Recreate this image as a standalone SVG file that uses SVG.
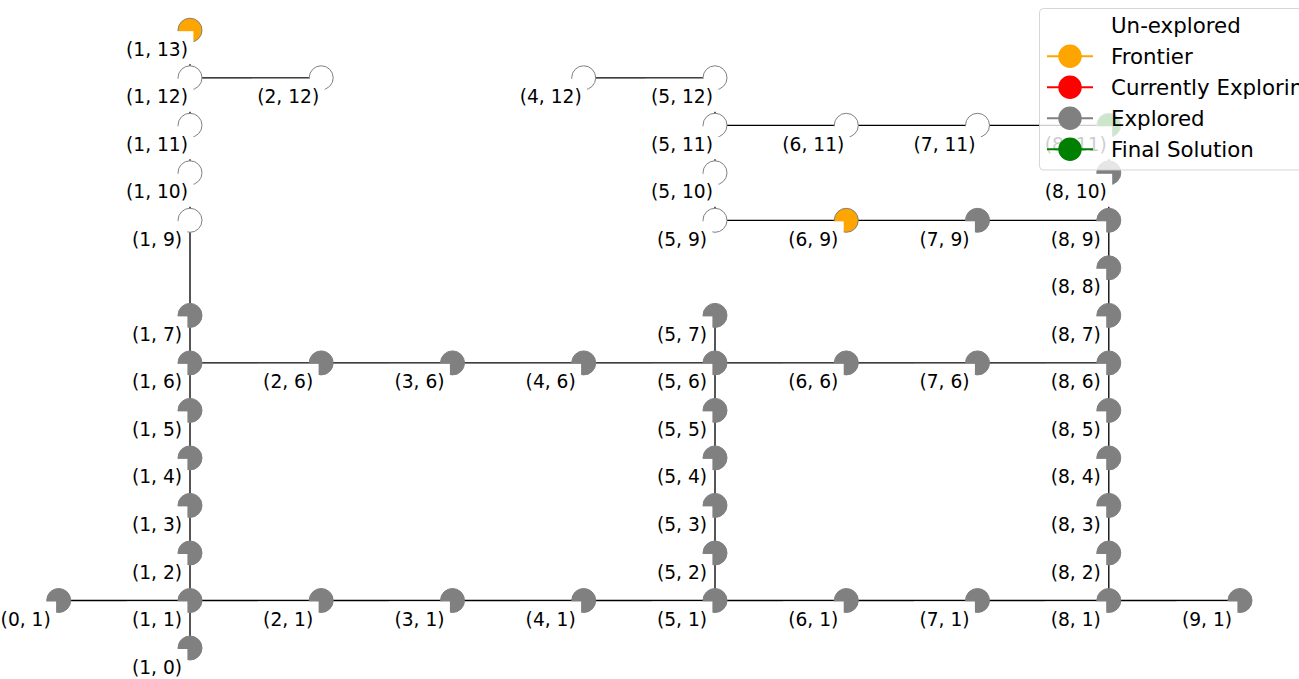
<svg xmlns="http://www.w3.org/2000/svg" width="1299" height="679" viewBox="0 0 1299 679">
<style>
.e line{stroke:#000;stroke-width:1.33}
.n circle{stroke:#808080;stroke-width:1}
.u{fill:#fff}.x{fill:#808080}.f{fill:#ffa500}.g{fill:#008000}
.n rect{fill:#fff}
.n text,.lg text{font-family:"DejaVu Sans","Liberation Sans",sans-serif;fill:#000}
.n text{font-size:18.67px;text-anchor:middle;transform:translate(0px,1.5px)}
.lg text{font-size:21.33px}
.lg line{stroke-width:2}
</style>
<rect width="1299" height="679" fill="#fff"/>
<g id="edges" class="e">
<line x1="58.7" y1="600.5" x2="1240" y2="600.5"/>
<line x1="190" y1="362.9" x2="1108.8" y2="362.9"/>
<line x1="715" y1="220.3" x2="1108.8" y2="220.3"/>
<line x1="715" y1="125.3" x2="1108.8" y2="125.3"/>
<line x1="190" y1="77.8" x2="321.2" y2="77.8"/>
<line x1="583.7" y1="77.8" x2="715" y2="77.8"/>
<line x1="190" y1="648" x2="190" y2="30.2"/>
<line x1="715" y1="600.5" x2="715" y2="315.4"/>
<line x1="715" y1="220.3" x2="715" y2="77.8"/>
<line x1="1108.8" y1="600.5" x2="1108.8" y2="125.3"/>
</g>
<g id="n1_13" class="n"><circle class="f" cx="190" cy="30.2" r="12"/><rect x="120.6" y="31.2" width="72.8" height="33"/><text x="157" y="54.2">(1, 13)</text></g>
<g id="n1_12" class="n"><circle class="u" cx="190" cy="77.8" r="12"/><rect x="120.6" y="78.8" width="72.8" height="33"/><text x="157" y="101.8">(1, 12)</text></g>
<g id="n2_12" class="n"><circle class="u" cx="321.2" cy="77.8" r="12"/><rect x="251.8" y="78.8" width="72.8" height="33"/><text x="288.2" y="101.8">(2, 12)</text></g>
<g id="n4_12" class="n"><circle class="u" cx="583.7" cy="77.8" r="12"/><rect x="514.3" y="78.8" width="72.8" height="33"/><text x="550.7" y="101.8">(4, 12)</text></g>
<g id="n5_12" class="n"><circle class="u" cx="715" cy="77.8" r="12"/><rect x="645.6" y="78.8" width="72.8" height="33"/><text x="682" y="101.8">(5, 12)</text></g>
<g id="n1_11" class="n"><circle class="u" cx="190" cy="125.3" r="12"/><rect x="120.6" y="126.3" width="72.8" height="33"/><text x="157" y="149.3">(1, 11)</text></g>
<g id="n5_11" class="n"><circle class="u" cx="715" cy="125.3" r="12"/><rect x="645.6" y="126.3" width="72.8" height="33"/><text x="682" y="149.3">(5, 11)</text></g>
<g id="n6_11" class="n"><circle class="u" cx="846.3" cy="125.3" r="12"/><rect x="776.9" y="126.3" width="72.8" height="33"/><text x="813.3" y="149.3">(6, 11)</text></g>
<g id="n7_11" class="n"><circle class="u" cx="977.5" cy="125.3" r="12"/><rect x="908.1" y="126.3" width="72.8" height="33"/><text x="944.5" y="149.3">(7, 11)</text></g>
<g id="n8_11" class="n"><circle class="g" cx="1108.8" cy="125.3" r="12"/><rect x="1039.4" y="126.3" width="72.8" height="33"/><text x="1075.8" y="149.3">(8, 11)</text></g>
<g id="n1_10" class="n"><circle class="u" cx="190" cy="172.8" r="12"/><rect x="120.6" y="173.8" width="72.8" height="33"/><text x="157" y="196.8">(1, 10)</text></g>
<g id="n5_10" class="n"><circle class="u" cx="715" cy="172.8" r="12"/><rect x="645.6" y="173.8" width="72.8" height="33"/><text x="682" y="196.8">(5, 10)</text></g>
<g id="n8_10" class="n"><circle class="x" cx="1108.8" cy="172.8" r="12"/><rect x="1039.4" y="173.8" width="72.8" height="33"/><text x="1075.8" y="196.8">(8, 10)</text></g>
<g id="n1_9" class="n"><circle class="u" cx="190" cy="220.3" r="12"/><rect x="126.5" y="221.3" width="60.9" height="33"/><text x="157" y="244.3">(1, 9)</text></g>
<g id="n5_9" class="n"><circle class="u" cx="715" cy="220.3" r="12"/><rect x="651.5" y="221.3" width="60.9" height="33"/><text x="682" y="244.3">(5, 9)</text></g>
<g id="n6_9" class="n"><circle class="f" cx="846.3" cy="220.3" r="12"/><rect x="782.8" y="221.3" width="60.9" height="33"/><text x="813.3" y="244.3">(6, 9)</text></g>
<g id="n7_9" class="n"><circle class="x" cx="977.5" cy="220.3" r="12"/><rect x="914" y="221.3" width="60.9" height="33"/><text x="944.5" y="244.3">(7, 9)</text></g>
<g id="n8_9" class="n"><circle class="x" cx="1108.8" cy="220.3" r="12"/><rect x="1045.3" y="221.3" width="60.9" height="33"/><text x="1075.8" y="244.3">(8, 9)</text></g>
<g id="n8_8" class="n"><circle class="x" cx="1108.8" cy="267.8" r="12"/><rect x="1045.3" y="268.8" width="60.9" height="33"/><text x="1075.8" y="291.8">(8, 8)</text></g>
<g id="n1_7" class="n"><circle class="x" cx="190" cy="315.4" r="12"/><rect x="126.5" y="316.4" width="60.9" height="33"/><text x="157" y="339.4">(1, 7)</text></g>
<g id="n5_7" class="n"><circle class="x" cx="715" cy="315.4" r="12"/><rect x="651.5" y="316.4" width="60.9" height="33"/><text x="682" y="339.4">(5, 7)</text></g>
<g id="n8_7" class="n"><circle class="x" cx="1108.8" cy="315.4" r="12"/><rect x="1045.3" y="316.4" width="60.9" height="33"/><text x="1075.8" y="339.4">(8, 7)</text></g>
<g id="n1_6" class="n"><circle class="x" cx="190" cy="362.9" r="12"/><rect x="126.5" y="363.9" width="60.9" height="33"/><text x="157" y="386.9">(1, 6)</text></g>
<g id="n2_6" class="n"><circle class="x" cx="321.2" cy="362.9" r="12"/><rect x="257.7" y="363.9" width="60.9" height="33"/><text x="288.2" y="386.9">(2, 6)</text></g>
<g id="n3_6" class="n"><circle class="x" cx="452.5" cy="362.9" r="12"/><rect x="389" y="363.9" width="60.9" height="33"/><text x="419.5" y="386.9">(3, 6)</text></g>
<g id="n4_6" class="n"><circle class="x" cx="583.7" cy="362.9" r="12"/><rect x="520.2" y="363.9" width="60.9" height="33"/><text x="550.7" y="386.9">(4, 6)</text></g>
<g id="n5_6" class="n"><circle class="x" cx="715" cy="362.9" r="12"/><rect x="651.5" y="363.9" width="60.9" height="33"/><text x="682" y="386.9">(5, 6)</text></g>
<g id="n6_6" class="n"><circle class="x" cx="846.3" cy="362.9" r="12"/><rect x="782.8" y="363.9" width="60.9" height="33"/><text x="813.3" y="386.9">(6, 6)</text></g>
<g id="n7_6" class="n"><circle class="x" cx="977.5" cy="362.9" r="12"/><rect x="914" y="363.9" width="60.9" height="33"/><text x="944.5" y="386.9">(7, 6)</text></g>
<g id="n8_6" class="n"><circle class="x" cx="1108.8" cy="362.9" r="12"/><rect x="1045.3" y="363.9" width="60.9" height="33"/><text x="1075.8" y="386.9">(8, 6)</text></g>
<g id="n1_5" class="n"><circle class="x" cx="190" cy="410.4" r="12"/><rect x="126.5" y="411.4" width="60.9" height="33"/><text x="157" y="434.4">(1, 5)</text></g>
<g id="n5_5" class="n"><circle class="x" cx="715" cy="410.4" r="12"/><rect x="651.5" y="411.4" width="60.9" height="33"/><text x="682" y="434.4">(5, 5)</text></g>
<g id="n8_5" class="n"><circle class="x" cx="1108.8" cy="410.4" r="12"/><rect x="1045.3" y="411.4" width="60.9" height="33"/><text x="1075.8" y="434.4">(8, 5)</text></g>
<g id="n1_4" class="n"><circle class="x" cx="190" cy="457.9" r="12"/><rect x="126.5" y="458.9" width="60.9" height="33"/><text x="157" y="481.9">(1, 4)</text></g>
<g id="n5_4" class="n"><circle class="x" cx="715" cy="457.9" r="12"/><rect x="651.5" y="458.9" width="60.9" height="33"/><text x="682" y="481.9">(5, 4)</text></g>
<g id="n8_4" class="n"><circle class="x" cx="1108.8" cy="457.9" r="12"/><rect x="1045.3" y="458.9" width="60.9" height="33"/><text x="1075.8" y="481.9">(8, 4)</text></g>
<g id="n1_3" class="n"><circle class="x" cx="190" cy="505.4" r="12"/><rect x="126.5" y="506.4" width="60.9" height="33"/><text x="157" y="529.4">(1, 3)</text></g>
<g id="n5_3" class="n"><circle class="x" cx="715" cy="505.4" r="12"/><rect x="651.5" y="506.4" width="60.9" height="33"/><text x="682" y="529.4">(5, 3)</text></g>
<g id="n8_3" class="n"><circle class="x" cx="1108.8" cy="505.4" r="12"/><rect x="1045.3" y="506.4" width="60.9" height="33"/><text x="1075.8" y="529.4">(8, 3)</text></g>
<g id="n1_2" class="n"><circle class="x" cx="190" cy="553" r="12"/><rect x="126.5" y="554" width="60.9" height="33"/><text x="157" y="577">(1, 2)</text></g>
<g id="n5_2" class="n"><circle class="x" cx="715" cy="553" r="12"/><rect x="651.5" y="554" width="60.9" height="33"/><text x="682" y="577">(5, 2)</text></g>
<g id="n8_2" class="n"><circle class="x" cx="1108.8" cy="553" r="12"/><rect x="1045.3" y="554" width="60.9" height="33"/><text x="1075.8" y="577">(8, 2)</text></g>
<g id="n0_1" class="n"><circle class="x" cx="58.7" cy="600.5" r="12"/><rect x="-4.8" y="601.5" width="60.9" height="33"/><text x="25.7" y="624.5">(0, 1)</text></g>
<g id="n1_1" class="n"><circle class="x" cx="190" cy="600.5" r="12"/><rect x="126.5" y="601.5" width="60.9" height="33"/><text x="157" y="624.5">(1, 1)</text></g>
<g id="n2_1" class="n"><circle class="x" cx="321.2" cy="600.5" r="12"/><rect x="257.7" y="601.5" width="60.9" height="33"/><text x="288.2" y="624.5">(2, 1)</text></g>
<g id="n3_1" class="n"><circle class="x" cx="452.5" cy="600.5" r="12"/><rect x="389" y="601.5" width="60.9" height="33"/><text x="419.5" y="624.5">(3, 1)</text></g>
<g id="n4_1" class="n"><circle class="x" cx="583.7" cy="600.5" r="12"/><rect x="520.2" y="601.5" width="60.9" height="33"/><text x="550.7" y="624.5">(4, 1)</text></g>
<g id="n5_1" class="n"><circle class="x" cx="715" cy="600.5" r="12"/><rect x="651.5" y="601.5" width="60.9" height="33"/><text x="682" y="624.5">(5, 1)</text></g>
<g id="n6_1" class="n"><circle class="x" cx="846.3" cy="600.5" r="12"/><rect x="782.8" y="601.5" width="60.9" height="33"/><text x="813.3" y="624.5">(6, 1)</text></g>
<g id="n7_1" class="n"><circle class="x" cx="977.5" cy="600.5" r="12"/><rect x="914" y="601.5" width="60.9" height="33"/><text x="944.5" y="624.5">(7, 1)</text></g>
<g id="n8_1" class="n"><circle class="x" cx="1108.8" cy="600.5" r="12"/><rect x="1045.3" y="601.5" width="60.9" height="33"/><text x="1075.8" y="624.5">(8, 1)</text></g>
<g id="n9_1" class="n"><circle class="x" cx="1240" cy="600.5" r="12"/><rect x="1176.5" y="601.5" width="60.9" height="33"/><text x="1207" y="624.5">(9, 1)</text></g>
<g id="n1_0" class="n"><circle class="x" cx="190" cy="648" r="12"/><rect x="126.5" y="649" width="60.9" height="33"/><text x="157" y="672">(1, 0)</text></g>
<g id="legend" class="lg">
<rect x="1039.5" y="8.5" width="290" height="161.5" rx="4" fill="#fff" fill-opacity="0.8" stroke="#ccc" stroke-opacity="0.8" stroke-width="1"/>
<line x1="1047" y1="25.2" x2="1093" y2="25.2" stroke="#fff"/><circle cx="1070" cy="25.2" r="11.7" fill="#fff" stroke="#fff"/>
<text x="1111" y="32.5">Un-explored</text>
<line x1="1047" y1="56.2" x2="1093" y2="56.2" stroke="#ffa500"/><circle cx="1070" cy="56.2" r="11.7" fill="#ffa500"/>
<text x="1111" y="63.5">Frontier</text>
<line x1="1047" y1="87.3" x2="1093" y2="87.3" stroke="#f00"/><circle cx="1070" cy="87.3" r="11.7" fill="#f00"/>
<text x="1111" y="94.6">Currently Exploring</text>
<line x1="1047" y1="118.3" x2="1093" y2="118.3" stroke="#808080"/><circle cx="1070" cy="118.3" r="11.7" fill="#808080"/>
<text x="1111" y="125.6">Explored</text>
<line x1="1047" y1="149.3" x2="1093" y2="149.3" stroke="#008000"/><circle cx="1070" cy="149.3" r="11.7" fill="#008000"/>
<text x="1111" y="156.6">Final Solution</text>
</g>
</svg>
